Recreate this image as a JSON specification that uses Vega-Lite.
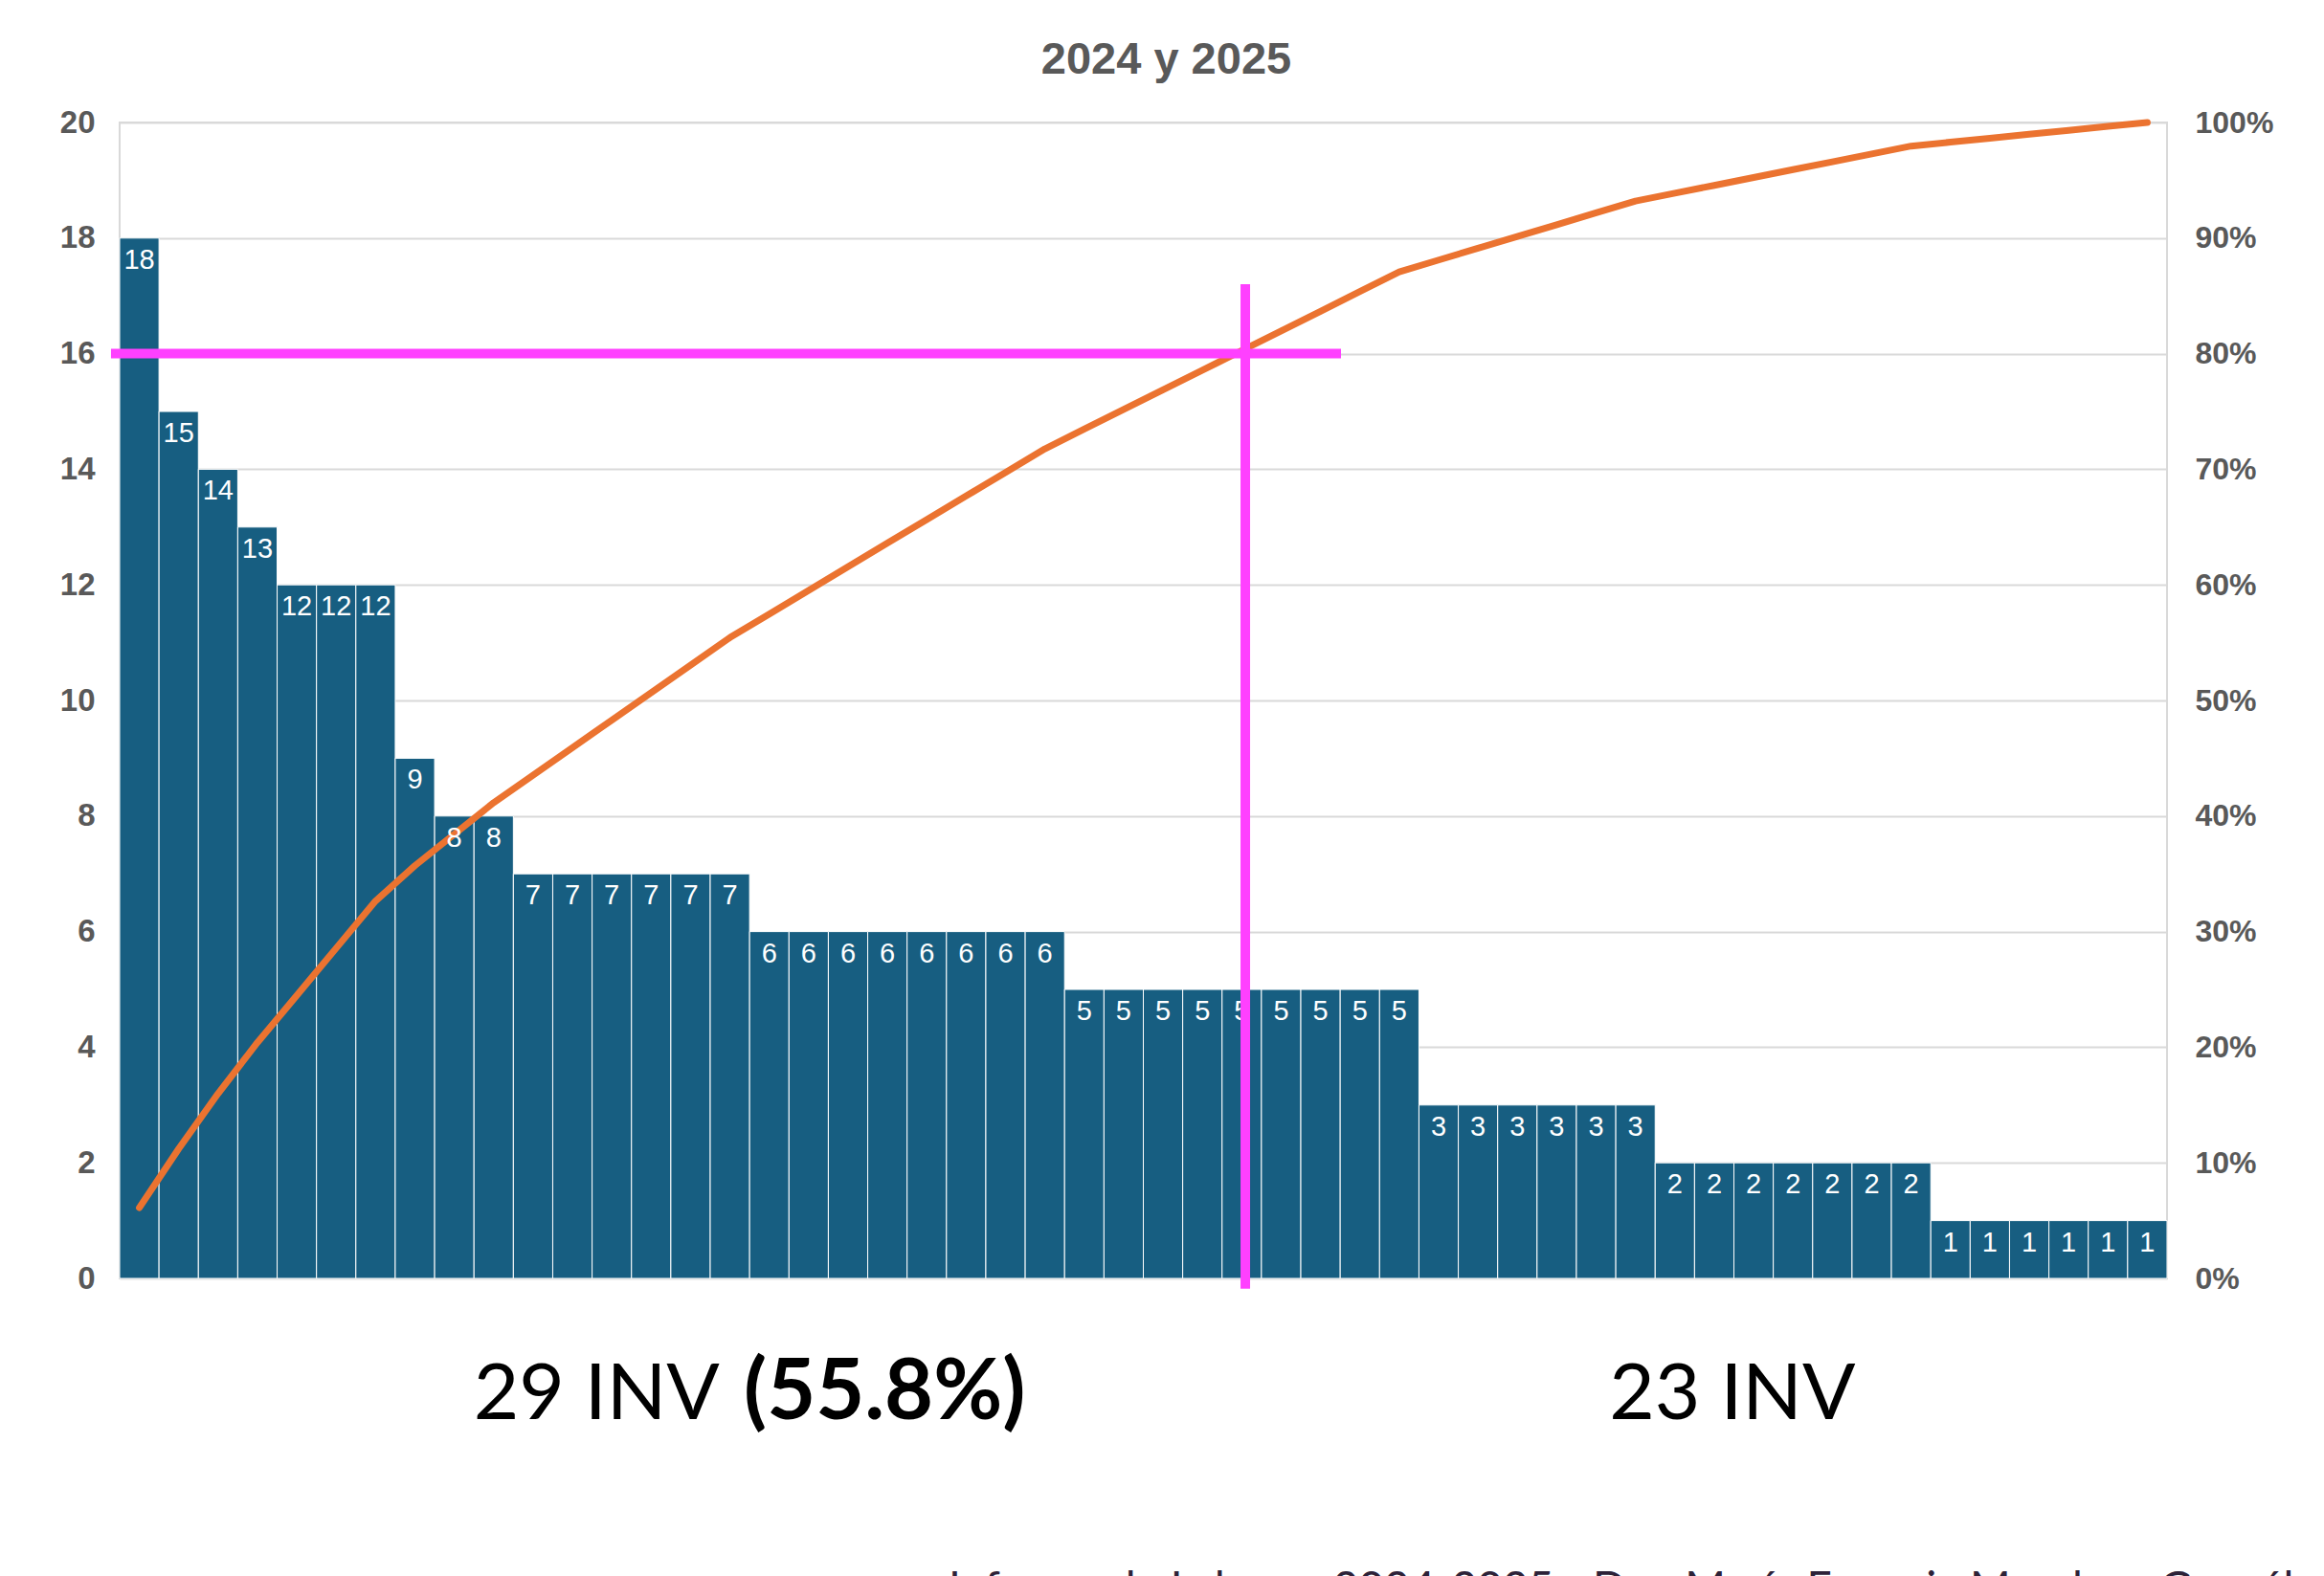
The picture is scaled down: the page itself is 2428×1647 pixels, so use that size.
{
  "$schema": "https://vega.github.io/schema/vega-lite/v6.json",
  "width": 2139,
  "height": 1208,
  "autosize": {"type": "none"},
  "padding": {"left": 125, "top": 128, "right": 164, "bottom": 311},
  "background": "white",
  "title": {
    "text": "2024 y 2025",
    "font": "Liberation Sans",
    "fontSize": 47,
    "fontWeight": "bold",
    "color": "#595959",
    "anchor": "middle",
    "baseline": "alphabetic",
    "dx": 24,
    "dy": 51,
    "offset": 39
  },
  "config": {
    "view": {"stroke": "#d9d9d9", "strokeWidth": 2},
    "axis": {
      "labelFont": "Liberation Sans",
      "labelFontWeight": "bold",
      "labelColor": "#595959",
      "domain": false,
      "ticks": false,
      "title": null
    }
  },
  "datasets": {
    "pareto": [
      {"i": 1, "v": 18, "pct": 0.0612},
      {"i": 2, "v": 15, "pct": 0.1122},
      {"i": 3, "v": 14, "pct": 0.1599},
      {"i": 4, "v": 13, "pct": 0.2041},
      {"i": 5, "v": 12, "pct": 0.2449},
      {"i": 6, "v": 12, "pct": 0.2857},
      {"i": 7, "v": 12, "pct": 0.3265},
      {"i": 8, "v": 9, "pct": 0.3571},
      {"i": 9, "v": 8, "pct": 0.3844},
      {"i": 10, "v": 8, "pct": 0.4116},
      {"i": 11, "v": 7, "pct": 0.4354},
      {"i": 12, "v": 7, "pct": 0.4592},
      {"i": 13, "v": 7, "pct": 0.483},
      {"i": 14, "v": 7, "pct": 0.5068},
      {"i": 15, "v": 7, "pct": 0.5306},
      {"i": 16, "v": 7, "pct": 0.5544},
      {"i": 17, "v": 6, "pct": 0.5748},
      {"i": 18, "v": 6, "pct": 0.5952},
      {"i": 19, "v": 6, "pct": 0.6156},
      {"i": 20, "v": 6, "pct": 0.6361},
      {"i": 21, "v": 6, "pct": 0.6565},
      {"i": 22, "v": 6, "pct": 0.6769},
      {"i": 23, "v": 6, "pct": 0.6973},
      {"i": 24, "v": 6, "pct": 0.7177},
      {"i": 25, "v": 5, "pct": 0.7347},
      {"i": 26, "v": 5, "pct": 0.7517},
      {"i": 27, "v": 5, "pct": 0.7687},
      {"i": 28, "v": 5, "pct": 0.7857},
      {"i": 29, "v": 5, "pct": 0.8027},
      {"i": 30, "v": 5, "pct": 0.8197},
      {"i": 31, "v": 5, "pct": 0.8367},
      {"i": 32, "v": 5, "pct": 0.8537},
      {"i": 33, "v": 5, "pct": 0.8707},
      {"i": 34, "v": 3, "pct": 0.881},
      {"i": 35, "v": 3, "pct": 0.8912},
      {"i": 36, "v": 3, "pct": 0.9014},
      {"i": 37, "v": 3, "pct": 0.9116},
      {"i": 38, "v": 3, "pct": 0.9218},
      {"i": 39, "v": 3, "pct": 0.932},
      {"i": 40, "v": 2, "pct": 0.9388},
      {"i": 41, "v": 2, "pct": 0.9456},
      {"i": 42, "v": 2, "pct": 0.9524},
      {"i": 43, "v": 2, "pct": 0.9592},
      {"i": 44, "v": 2, "pct": 0.966},
      {"i": 45, "v": 2, "pct": 0.9728},
      {"i": 46, "v": 2, "pct": 0.9796},
      {"i": 47, "v": 1, "pct": 0.983},
      {"i": 48, "v": 1, "pct": 0.9864},
      {"i": 49, "v": 1, "pct": 0.9898},
      {"i": 50, "v": 1, "pct": 0.9932},
      {"i": 51, "v": 1, "pct": 0.9966},
      {"i": 52, "v": 1, "pct": 1.0}
    ],
    "guides": [
      {"x": 0.28, "x2": 31.52, "y": 16, "y2": 16},
      {"x": 29.09, "x2": 29.09, "y": 17.2, "y2": -0.18}
    ]
  },
  "layer": [
    {
      "layer": [
        {
          "data": {"name": "pareto"},
          "mark": {"type": "bar", "orient": "vertical", "width": 41.13, "color": "#175e81", "stroke": "white", "strokeWidth": 1},
          "encoding": {
            "x": {"field": "i", "type": "quantitative", "scale": {"domain": [0.5, 52.5], "nice": false, "zero": false, "padding": 0}, "axis": null},
            "y": {"field": "v", "type": "quantitative", "scale": {"domain": [0, 20], "nice": false},
              "axis": {"orient": "left", "values": [0, 2, 4, 6, 8, 10, 12, 14, 16, 18, 20], "grid": true, "gridColor": "#d9d9d9", "gridWidth": 2, "labelFontSize": 33, "labelPadding": 26}}
          }
        }
      ]
    },
    {
      "data": {"name": "pareto"},
      "mark": {"type": "line", "color": "#EB7330", "strokeWidth": 7, "strokeCap": "round", "strokeJoin": "round"},
      "encoding": {
        "x": {"field": "i", "type": "quantitative", "scale": {"domain": [0.5, 52.5], "nice": false, "zero": false, "padding": 0}, "axis": null},
        "y": {"field": "pct", "type": "quantitative", "scale": {"domain": [0, 1], "nice": false},
          "axis": {"orient": "right", "values": [0, 0.1, 0.2, 0.3, 0.4, 0.5, 0.6, 0.7, 0.8, 0.9, 1], "format": ".0%", "grid": false, "labelFontSize": 32, "labelPadding": 29}}
      }
    },
    {
      "layer": [
        {
          "data": {"name": "pareto"},
          "mark": {"type": "text", "color": "white", "font": "Liberation Sans", "fontSize": 29, "baseline": "alphabetic", "dy": 32},
          "encoding": {
            "x": {"field": "i", "type": "quantitative", "scale": {"domain": [0.5, 52.5], "nice": false, "zero": false, "padding": 0}, "axis": null},
            "y": {"field": "v", "type": "quantitative", "scale": {"domain": [0, 20], "nice": false}, "axis": null},
            "text": {"field": "v", "type": "quantitative"}
          }
        },
        {
          "data": {"name": "guides"},
          "mark": {"type": "rule", "color": "#FF40FF", "strokeWidth": 10},
          "encoding": {
            "x": {"field": "x", "type": "quantitative", "scale": {"domain": [0.5, 52.5], "nice": false, "zero": false, "padding": 0}, "axis": null},
            "x2": {"field": "x2"},
            "y": {"field": "y", "type": "quantitative", "scale": {"domain": [0, 20], "nice": false}, "axis": null},
            "y2": {"field": "y2"}
          }
        },
        {
          "data": {"values": [{"label": "29 INV", "x": 15.74, "y": -2.435}]},
          "mark": {"type": "text", "font": "Lato", "fontSize": 82, "color": "black", "align": "right", "baseline": "alphabetic"},
          "encoding": {
            "x": {"field": "x", "type": "quantitative", "scale": {"domain": [0.5, 52.5], "nice": false, "zero": false, "padding": 0}, "axis": null},
            "y": {"field": "y", "type": "quantitative", "scale": {"domain": [0, 20], "nice": false}, "axis": null},
            "text": {"field": "label"}
          }
        },
        {
          "data": {"values": [{"label": "(55.8%)", "x": 16.35, "y": -2.435}]},
          "mark": {"type": "text", "font": "Lato", "fontSize": 88, "fontWeight": "bold", "color": "black", "align": "left", "baseline": "alphabetic"},
          "encoding": {
            "x": {"field": "x", "type": "quantitative", "scale": {"domain": [0.5, 52.5], "nice": false, "zero": false, "padding": 0}, "axis": null},
            "y": {"field": "y", "type": "quantitative", "scale": {"domain": [0, 20], "nice": false}, "axis": null},
            "text": {"field": "label"}
          }
        },
        {
          "data": {"values": [{"label": "23 INV", "x": 41.46, "y": -2.435}]},
          "mark": {"type": "text", "font": "Lato", "fontSize": 82, "color": "black", "align": "center", "baseline": "alphabetic"},
          "encoding": {
            "x": {"field": "x", "type": "quantitative", "scale": {"domain": [0.5, 52.5], "nice": false, "zero": false, "padding": 0}, "axis": null},
            "y": {"field": "y", "type": "quantitative", "scale": {"domain": [0, 20], "nice": false}, "axis": null},
            "text": {"field": "label"}
          }
        },
        {
          "data": {"values": [{"label": "Informe de Labores 2024-2025 - Dra. María Eugenia Mendoza González", "x": 21.55, "y": -5.62}]},
          "mark": {"type": "text", "font": "Lato", "fontSize": 46, "color": "#2d2238", "align": "left", "baseline": "alphabetic"},
          "encoding": {
            "x": {"field": "x", "type": "quantitative", "scale": {"domain": [0.5, 52.5], "nice": false, "zero": false, "padding": 0}, "axis": null},
            "y": {"field": "y", "type": "quantitative", "scale": {"domain": [0, 20], "nice": false}, "axis": null},
            "text": {"field": "label"}
          }
        }
      ]
    }
  ],
  "resolve": {"scale": {"y": "independent"}, "axis": {"y": "independent"}}
}
